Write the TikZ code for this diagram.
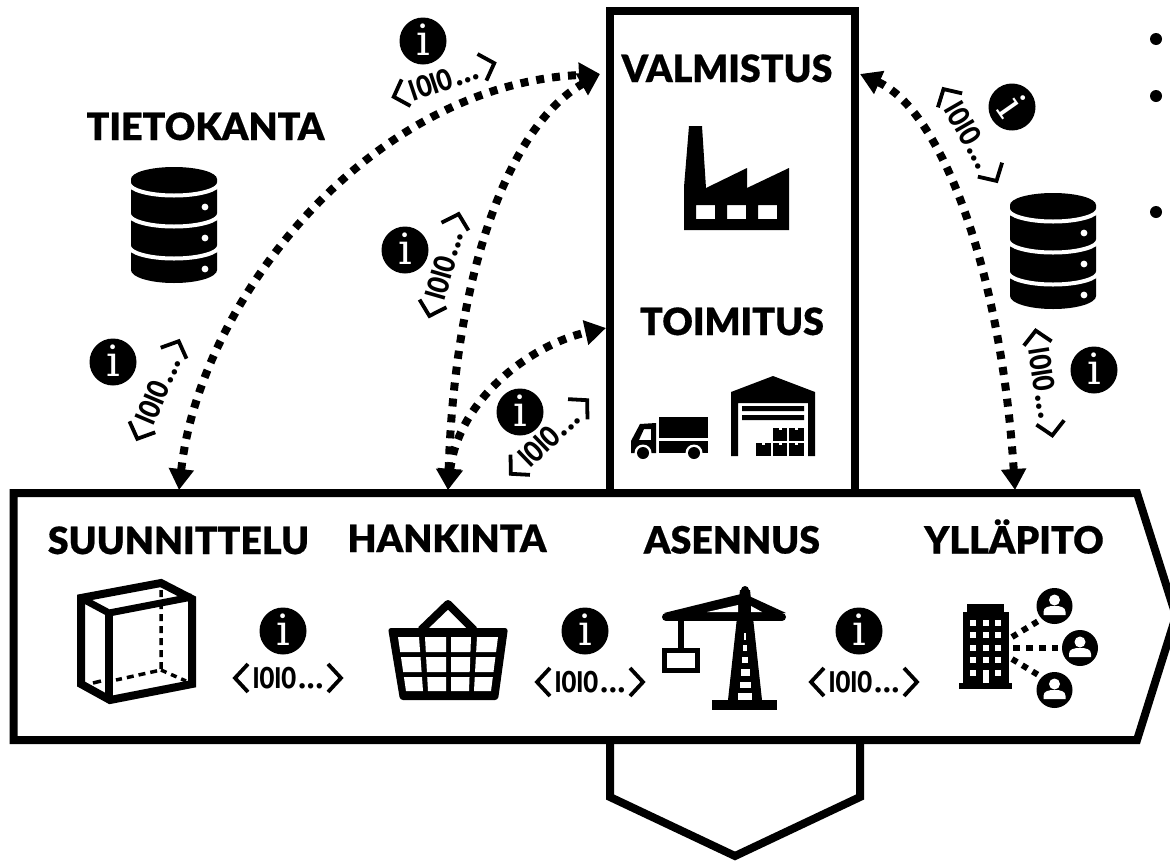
\documentclass[tikz,border=0pt]{standalone}
\usepackage{graphicx}
\usepackage{fontspec}
\setmainfont{Lato}
\newfontfamily\headfont{Lato Black}[FakeBold=0.4]
\newfontfamily\datafont{Fira Sans}[UprightFont=* Bold]
\newfontfamily\infofont{DejaVu Serif}
\usetikzlibrary{arrows.meta}
\newcommand{\tagtext}{\scalebox{.74}[1]{IOIO}\kern2pt.\kern1.5pt.\kern1.5pt.}
\tikzset{
  x=1pt,y=-1pt,
  heading/.style={font=\headfont\fontsize{37.5}{37.5}\selectfont,inner sep=0pt,text=black,anchor=base},
  frame/.style={draw=black,line width=8pt,miter limit=10},
  flow/.style={draw=black,line width=8pt,dash pattern=on 8pt off 8pt,{Triangle[length=21pt,width=24pt]}-{Triangle[length=21pt,width=24pt]}},
  infoicon/.pic={
    \fill[black] (0,0) circle[radius=23.5pt];
    \node[transform shape,text=white,inner sep=0pt,font=\infofont\fontsize{43}{43}\selectfont] (i) at (0,-1) {i};
  },
  datatag/.pic={
    \draw[black,line width=3.8pt,miter limit=6] (-40,-14) -- (-53,0) -- (-40,14);
    \draw[black,line width=3.8pt,miter limit=6] (40,-14) -- (53,0) -- (40,14);
    \node[transform shape,text=black,inner sep=0pt,font=\datafont\fontsize{30}{30}\selectfont] (t) at (0,0) {\tagtext};
  },
  dbicon/.pic={
    \fill[black] (-43,12) -- (-43,103) arc[start angle=180,end angle=360,x radius=43pt,y radius=13pt] -- (43,12) -- cycle;
    \fill[black] (0,12) ellipse[x radius=43pt,y radius=12pt];
    \foreach \c in {16,47,79}{
      \draw[white,line width=4pt] (-45,\c) arc[start angle=180,end angle=360,x radius=45pt,y radius=12.5pt];
    }
    \foreach \c in {40,71,102}{\fill[white] (31,\c) circle[radius=3.4pt];}
  },
  person/.pic={
    \fill[black] (0,0) circle[radius=18pt];
    \fill[white] (0,-6) circle[radius=5.5pt];
    \fill[white] (-11,9) -- (-11,6) .. controls (-11,1) and (-6,0) .. (0,0) .. controls (6,0) and (11,1) .. (11,6) -- (11,9) -- cycle;
  }
}
\begin{document}
\begin{tikzpicture}
\useasboundingbox (0,0) rectangle (1170,863);
% frames
\draw[frame] (610,494) -- (610,11) -- (855,11) -- (855,494);
\draw[frame,fill=white] (13.5,493) -- (1137,493) -- (1176,616) -- (1137,740) -- (13.5,740) -- cycle;
\draw[frame,line join=miter] (610,740) -- (610,797) -- (735,856) -- (860,797) -- (860,740);
% bullets
\foreach \b in {39,96,212}{\fill[black] (1156,\b) circle[radius=6pt];}
% headings
\node[heading] (tieto) at (205.5,140) {TIETOKANTA};
\node[heading] (valm) at (727,82) {VALMISTUS};
\node[heading] (toim) at (732,335) {TOIMITUS};
\node[heading] (suun) at (178.5,554) {SUUNNITTELU};
\node[heading] (hank) at (447,552) {HANKINTA};
\node[heading] (asen) at (732,553.5) {ASENNUS};
\node[heading] (yll) at (1014,553.5) {YLLÄPITO};
% connector ends
\coordinate (sA) at (179,490);
\coordinate (hA) at (448,490);
\coordinate (yA) at (1015,490);
\coordinate (vL) at (600,74);
\coordinate (vR) at (860,74);
\coordinate (tL) at (606,328);
\draw[flow] (sA) .. controls (200,300) and (370,85) .. (vL);
\draw[flow] (hA) .. controls (455,270) and (510,125) .. (vL);
\draw[flow] (hA) .. controls (458,400) and (530,345) .. (tL);
\draw[flow] (yA) .. controls (1001,270) and (941,110) .. (vR);
% info icons
\pic (ia) at (423,41) {infoicon};
\pic (ib) at (405,250) {infoicon};
\pic (ic) at (113,362) {infoicon};
\pic (id) at (520,412) {infoicon};
\pic[rotate=-55] (ie) at (1012,107) {infoicon};
\pic (if) at (1094,370) {infoicon};
\pic (ig) at (283,631) {infoicon};
\pic (ih) at (585,631) {infoicon};
\pic (ii) at (859,631) {infoicon};
% data tags
\pic[rotate=18.5] (da) at (444,80) {datatag};
\pic[rotate=74] (db) at (444,265) {datatag};
\pic[rotate=67] (dc) at (158,390) {datatag};
\pic[rotate=44] (dd) at (549,437) {datatag};
\pic[rotate=-60] (de) at (970,135) {datatag};
\pic[rotate=-81] (df) at (1044,383) {datatag};
\pic (dg) at (288,678) {datatag};
\pic (dh) at (590,682) {datatag};
\pic (di) at (864,682) {datatag};
% databases
\pic at (174,167) {dbicon};
\pic at (1053,193) {dbicon};
% factory
\fill[black,even odd rule] (684,230) -- (684,187) -- (689,126) -- (702,126) -- (706,188) -- (747,168) -- (747,188) -- (789,168) -- (789,230) -- cycle
  (696,205) rectangle (715,219) (727,205) rectangle (746,219) (758,205) rectangle (777,219);
% truck
\fill[black] (659,417) rectangle (708,438);
\fill[black] (659,441) rectangle (708,453);
\fill[black,even odd rule] (631,453) -- (631,441) -- (640,424) -- (656,423) -- (656,453) -- cycle
   (639,440) -- (644,429) -- (651,429) -- (651,440) -- cycle;
\foreach \w in {643,694}{\fill[white] (\w,453) circle[radius=8.5pt];\fill[black] (\w,453) circle[radius=6pt];}
% warehouse
\fill[black,even odd rule] (731,456) -- (731,392) -- (773,376) -- (815,392) -- (815,456) -- (808,456) -- (808,403) -- (738,403) -- (738,456) -- cycle;
\fill[black] (742,406) rectangle (804,411) (742,415) rectangle (804,420);
\foreach \x/\y/\w in {773/428/14,789/428/15,756/443/15,773/443/14,789/443/15}{
  \fill[black] (\x,\y) rectangle ++(\w,13);
  \fill[white] (\x+\w/2-1.5,\y) rectangle ++(3,2);
}
% box
\draw[black,line width=8pt,line join=miter] (81,598) -- (161,583) -- (192,599) -- (192,684) -- (110,700) -- (81,684) -- cycle;
\draw[black,line width=7pt] (81,598) -- (109,613) -- (192,597);
\draw[black,line width=8pt] (109,613) -- (109,700);
\draw[black,line width=3.5pt,dash pattern=on 7pt off 5pt] (161,590) -- (161,670) -- (116,680);
\draw[black,line width=3.5pt,dash pattern=on 6pt off 5pt] (161,670) -- (186,681);
\draw[black,line width=3.5pt] (93,683) -- (101,681);
% basket
\draw[black,line width=8pt,line join=round] (421,630) -- (448,604) -- (474,630);
\fill[black,rounded corners=3pt] (388,628) -- (508,628) -- (498,700) -- (400,700) -- cycle;
\foreach \ta/\tb/\ba/\bb in {398/419/406/423,425/446/428/446,451/471/451/469,477/498/474/491}{
  \foreach \ya/\yb in {637/652,657/672,677/691}{
    \fill[white] ({\ta+(\ba-\ta)*(\ya-637)/54},\ya) -- ({\tb+(\bb-\tb)*(\ya-637)/54},\ya) -- ({\tb+(\bb-\tb)*(\yb-637)/54},\yb) -- ({\ta+(\ba-\ta)*(\yb-637)/54},\yb) -- cycle;
  }
}
% crane
\fill[black] (740,590) -- (750,590) -- (762,700) -- (728,700) -- cycle;
\draw[black,line width=8pt,line cap=round] (745,590) -- (745,596);
\draw[black,line width=8pt,line cap=round] (666,617) -- (782,617);
\fill[black] (664,613) -- (741,594) -- (741,613) -- cycle;
\fill[black] (749,596) -- (786,613) -- (749,613) -- cycle;
\fill[white] (707,612) -- (738,605) -- (738,612) -- cycle;
\fill[white] (751,606) -- (762,612) -- (751,612) -- cycle;
\fill[black] (678,620) rectangle (684,650);
\draw[black,line width=5pt,line join=miter] (664.5,650) rectangle (697,670);
\foreach \ya/\yb/\h in {633/640/1,645/651/2,657/663/3,669/676/4.5,682/688/5.5,693/700/7}{
  \fill[white] (745-\h,\ya) rectangle (745+\h,\yb);
}
\fill[black] (712,700) rectangle (777,710);
% building
\fill[black] (967,604) rectangle (1004,612);
\fill[black] (962.5,612) rectangle (1009,683);
\fill[black] (959,683) rectangle (1012,689);
\foreach \y in {620,632,645,657,670}{
  \foreach \x in {970,982.5,995}{\fill[white] (\x,\y) rectangle ++(6,6);}
}
\fill[white] (982.5,670) rectangle (988.5,683);
\draw[black,line width=6pt,dash pattern=on 7pt off 6pt] (1013,648) -- (1058,648);
\draw[black,line width=6pt,dash pattern=on 6pt off 6pt] (1012,637) -- (1040,620);
\draw[black,line width=6pt,dash pattern=on 6pt off 6pt] (1012,659) -- (1040,676);
\pic at (1054.5,606) {person};
\pic at (1080,648) {person};
\pic at (1054.5,690) {person};
\end{tikzpicture}
\end{document}
